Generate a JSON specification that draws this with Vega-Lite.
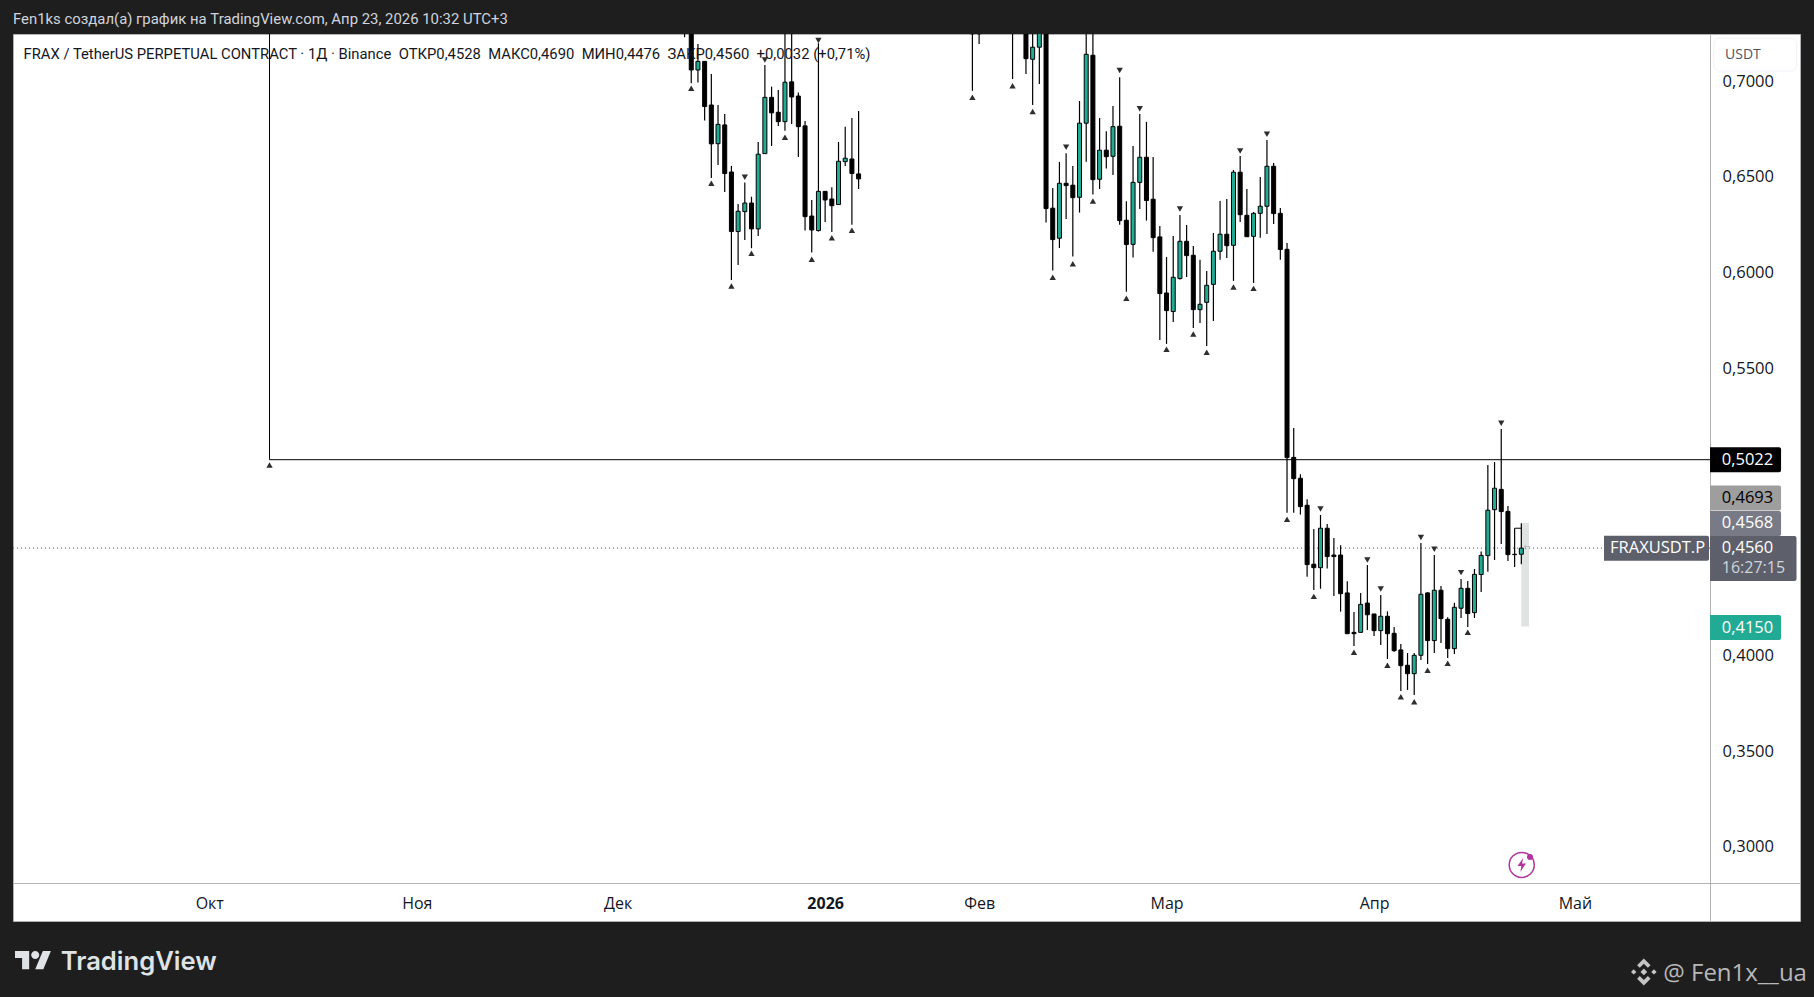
{
  "$schema": "https://vega.github.io/schema/vega-lite/v6.json",
  "description": "FRAXUSDT.P daily candles, TradingView snapshot",
  "width": 1787,
  "height": 887,
  "autosize": {"type": "none"},
  "padding": {"left": 13, "top": 34, "right": 14, "bottom": 76},
  "background": "#1e1e1e",
  "view": {"fill": "#ffffff", "stroke": "#b2b2b2"},
  "config": {"font": "Open Sans"},
  "datasets": {
    "candles": [
      {"bar":75,"open":0.78,"high":0.79,"low":0.7229,"close":0.73},
      {"bar":76,"open":0.75,"high":0.76,"low":0.6989,"close":0.7058},
      {"bar":77,"open":0.7058,"high":0.7194,"low":0.6992,"close":0.7103},
      {"bar":78,"open":0.7103,"high":0.7103,"low":0.6794,"close":0.6867},
      {"bar":79,"open":0.6875,"high":0.7037,"low":0.6494,"close":0.6672},
      {"bar":80,"open":0.6673,"high":0.6875,"low":0.6562,"close":0.6774},
      {"bar":81,"open":0.6771,"high":0.6828,"low":0.6421,"close":0.6517},
      {"bar":82,"open":0.6525,"high":0.6557,"low":0.5961,"close":0.6214},
      {"bar":83,"open":0.6214,"high":0.6358,"low":0.6039,"close":0.632},
      {"bar":84,"open":0.6318,"high":0.647,"low":0.617,"close":0.6363},
      {"bar":85,"open":0.6363,"high":0.6396,"low":0.6127,"close":0.6228},
      {"bar":86,"open":0.6228,"high":0.6682,"low":0.6191,"close":0.6618},
      {"bar":87,"open":0.6621,"high":0.7084,"low":0.6619,"close":0.6915},
      {"bar":88,"open":0.6915,"high":0.6971,"low":0.6661,"close":0.6834},
      {"bar":89,"open":0.6837,"high":0.6954,"low":0.6766,"close":0.6788},
      {"bar":90,"open":0.6788,"high":0.74,"low":0.674,"close":0.6994},
      {"bar":91,"open":0.6996,"high":0.74,"low":0.6776,"close":0.6917},
      {"bar":92,"open":0.6922,"high":0.694,"low":0.6604,"close":0.6762},
      {"bar":93,"open":0.6766,"high":0.6792,"low":0.6219,"close":0.6292},
      {"bar":94,"open":0.6295,"high":0.6379,"low":0.6104,"close":0.6222},
      {"bar":95,"open":0.6219,"high":0.7198,"low":0.6214,"close":0.6424},
      {"bar":96,"open":0.6424,"high":0.6424,"low":0.6264,"close":0.6379},
      {"bar":97,"open":0.6384,"high":0.6445,"low":0.6212,"close":0.6349},
      {"bar":98,"open":0.6355,"high":0.6682,"low":0.6355,"close":0.6581},
      {"bar":99,"open":0.6579,"high":0.6762,"low":0.6557,"close":0.6597},
      {"bar":100,"open":0.6593,"high":0.6807,"low":0.625,"close":0.6517},
      {"bar":101,"open":0.6515,"high":0.6844,"low":0.6436,"close":0.6489},
      {"bar":118,"open":0.75,"high":0.76,"low":0.6949,"close":0.7247},
      {"bar":119,"open":0.74,"high":0.75,"low":0.7194,"close":0.7247},
      {"bar":124,"open":0.75,"high":0.76,"low":0.7011,"close":0.73},
      {"bar":126,"open":0.74,"high":0.75,"low":0.7037,"close":0.7117},
      {"bar":127,"open":0.7114,"high":0.74,"low":0.6875,"close":0.7177},
      {"bar":128,"open":0.7177,"high":0.75,"low":0.6985,"close":0.735},
      {"bar":129,"open":0.735,"high":0.74,"low":0.6261,"close":0.6334},
      {"bar":130,"open":0.6336,"high":0.6442,"low":0.601,"close":0.6172},
      {"bar":131,"open":0.6179,"high":0.6578,"low":0.6128,"close":0.6466},
      {"bar":132,"open":0.6466,"high":0.6623,"low":0.628,"close":0.6454},
      {"bar":133,"open":0.6456,"high":0.6557,"low":0.6083,"close":0.6391},
      {"bar":134,"open":0.6393,"high":0.6896,"low":0.6313,"close":0.678},
      {"bar":135,"open":0.678,"high":0.74,"low":0.6578,"close":0.714},
      {"bar":136,"open":0.7135,"high":0.74,"low":0.6407,"close":0.6485},
      {"bar":137,"open":0.6487,"high":0.6807,"low":0.6436,"close":0.6639},
      {"bar":138,"open":0.6639,"high":0.6738,"low":0.6543,"close":0.6605},
      {"bar":139,"open":0.6607,"high":0.687,"low":0.651,"close":0.6762},
      {"bar":140,"open":0.6764,"high":0.702,"low":0.625,"close":0.6271},
      {"bar":141,"open":0.6273,"high":0.6372,"low":0.59,"close":0.6146},
      {"bar":142,"open":0.6147,"high":0.6661,"low":0.6078,"close":0.6471},
      {"bar":143,"open":0.6471,"high":0.6828,"low":0.6332,"close":0.6602},
      {"bar":144,"open":0.6602,"high":0.6787,"low":0.6271,"close":0.6376},
      {"bar":145,"open":0.6383,"high":0.6604,"low":0.6109,"close":0.6182},
      {"bar":146,"open":0.6186,"high":0.6243,"low":0.5648,"close":0.589},
      {"bar":147,"open":0.5893,"high":0.6081,"low":0.5627,"close":0.5801},
      {"bar":148,"open":0.5796,"high":0.6191,"low":0.5742,"close":0.5975},
      {"bar":149,"open":0.5968,"high":0.6301,"low":0.5964,"close":0.6163},
      {"bar":150,"open":0.6163,"high":0.6248,"low":0.5977,"close":0.6088},
      {"bar":151,"open":0.609,"high":0.6139,"low":0.571,"close":0.5806},
      {"bar":152,"open":0.5806,"high":0.6066,"low":0.5736,"close":0.5834},
      {"bar":153,"open":0.5844,"high":0.6008,"low":0.5616,"close":0.5933},
      {"bar":154,"open":0.5938,"high":0.6207,"low":0.5747,"close":0.6111},
      {"bar":155,"open":0.6111,"high":0.6374,"low":0.6066,"close":0.62},
      {"bar":156,"open":0.62,"high":0.6384,"low":0.6076,"close":0.614},
      {"bar":157,"open":0.6142,"high":0.6536,"low":0.5956,"close":0.6524},
      {"bar":158,"open":0.6524,"high":0.6609,"low":0.6264,"close":0.6302},
      {"bar":159,"open":0.6299,"high":0.6436,"low":0.6187,"close":0.6187},
      {"bar":160,"open":0.6189,"high":0.6316,"low":0.5945,"close":0.6309},
      {"bar":161,"open":0.6309,"high":0.6499,"low":0.6181,"close":0.6346},
      {"bar":162,"open":0.6346,"high":0.6692,"low":0.6201,"close":0.6555},
      {"bar":163,"open":0.6555,"high":0.6572,"low":0.6254,"close":0.6308},
      {"bar":164,"open":0.6309,"high":0.6337,"low":0.6066,"close":0.612},
      {"bar":165,"open":0.6121,"high":0.6154,"low":0.4745,"close":0.5033},
      {"bar":166,"open":0.5034,"high":0.5188,"low":0.4745,"close":0.4923},
      {"bar":167,"open":0.4925,"high":0.4946,"low":0.4735,"close":0.4777},
      {"bar":168,"open":0.4784,"high":0.4815,"low":0.4411,"close":0.4474},
      {"bar":169,"open":0.4476,"high":0.466,"low":0.4341,"close":0.4458},
      {"bar":170,"open":0.4458,"high":0.4733,"low":0.4348,"close":0.4664},
      {"bar":171,"open":0.4664,"high":0.4686,"low":0.4453,"close":0.4516},
      {"bar":172,"open":0.4524,"high":0.4613,"low":0.431,"close":0.4516},
      {"bar":173,"open":0.4524,"high":0.4575,"low":0.4228,"close":0.4322},
      {"bar":174,"open":0.4326,"high":0.4387,"low":0.4113,"close":0.4113},
      {"bar":175,"open":0.412,"high":0.4226,"low":0.4049,"close":0.4113},
      {"bar":176,"open":0.412,"high":0.4326,"low":0.412,"close":0.4266},
      {"bar":177,"open":0.4273,"high":0.4472,"low":0.4132,"close":0.4212},
      {"bar":178,"open":0.4216,"high":0.4216,"low":0.4101,"close":0.4129},
      {"bar":179,"open":0.4129,"high":0.4315,"low":0.4054,"close":0.4204},
      {"bar":180,"open":0.4204,"high":0.423,"low":0.3981,"close":0.4113},
      {"bar":181,"open":0.4115,"high":0.4148,"low":0.4019,"close":0.4024},
      {"bar":182,"open":0.4028,"high":0.4059,"low":0.3814,"close":0.3946},
      {"bar":183,"open":0.3948,"high":0.4012,"low":0.3819,"close":0.3904},
      {"bar":184,"open":0.3904,"high":0.4012,"low":0.3793,"close":0.4},
      {"bar":185,"open":0.4,"high":0.4587,"low":0.3976,"close":0.4319},
      {"bar":186,"open":0.4326,"high":0.4329,"low":0.3955,"close":0.4077},
      {"bar":187,"open":0.4077,"high":0.4524,"low":0.4012,"close":0.434},
      {"bar":188,"open":0.434,"high":0.4362,"low":0.4065,"close":0.4192},
      {"bar":189,"open":0.4188,"high":0.4199,"low":0.3986,"close":0.4035},
      {"bar":190,"open":0.4035,"high":0.4274,"low":0.4007,"close":0.4251},
      {"bar":191,"open":0.4246,"high":0.4399,"low":0.4195,"close":0.435},
      {"bar":192,"open":0.435,"high":0.4388,"low":0.4148,"close":0.4218},
      {"bar":193,"open":0.4223,"high":0.4451,"low":0.4195,"close":0.4423},
      {"bar":194,"open":0.4422,"high":0.4543,"low":0.4331,"close":0.4522},
      {"bar":195,"open":0.4521,"high":0.4994,"low":0.4436,"close":0.4758},
      {"bar":196,"open":0.4761,"high":0.501,"low":0.4498,"close":0.4873},
      {"bar":197,"open":0.4867,"high":0.5183,"low":0.4582,"close":0.4751},
      {"bar":198,"open":0.4752,"high":0.478,"low":0.4493,"close":0.4526},
      {"bar":199,"open":0.4528,"high":0.4664,"low":0.4462,"close":0.4526},
      {"bar":200,"open":0.4528,"high":0.469,"low":0.4476,"close":0.456}
    ],
    "pivots": [
      {"bar":13,"price":0.4994,"kind":"L"},
      {"bar":76,"price":0.6962,"kind":"L"},{"bar":79,"price":0.6466,"kind":"L"},{"bar":82,"price":0.593,"kind":"L"},
      {"bar":85,"price":0.61,"kind":"L"},{"bar":90,"price":0.6707,"kind":"L"},{"bar":94,"price":0.6069,"kind":"L"},
      {"bar":97,"price":0.6182,"kind":"L"},{"bar":100,"price":0.6221,"kind":"L"},
      {"bar":84,"price":0.6498,"kind":"H"},{"bar":87,"price":0.711,"kind":"H"},{"bar":95,"price":0.7212,"kind":"H"},
      {"bar":118,"price":0.6915,"kind":"L"},{"bar":124,"price":0.6976,"kind":"L"},{"bar":127,"price":0.6841,"kind":"L"},
      {"bar":130,"price":0.5975,"kind":"L"},{"bar":133,"price":0.6046,"kind":"L"},{"bar":136,"price":0.6374,"kind":"L"},
      {"bar":141,"price":0.5865,"kind":"L"},{"bar":147,"price":0.5599,"kind":"L"},{"bar":151,"price":0.5679,"kind":"L"},
      {"bar":153,"price":0.5583,"kind":"L"},{"bar":157,"price":0.5924,"kind":"L"},{"bar":160,"price":0.5917,"kind":"L"},
      {"bar":132,"price":0.6654,"kind":"H"},{"bar":140,"price":0.7055,"kind":"H"},{"bar":143,"price":0.6856,"kind":"H"},
      {"bar":149,"price":0.6332,"kind":"H"},{"bar":158,"price":0.6635,"kind":"H"},{"bar":162,"price":0.6722,"kind":"H"},
      {"bar":165,"price":0.4711,"kind":"L"},{"bar":169,"price":0.4308,"kind":"L"},{"bar":175,"price":0.4016,"kind":"L"},
      {"bar":180,"price":0.3948,"kind":"L"},{"bar":182,"price":0.3784,"kind":"L"},{"bar":184,"price":0.3758,"kind":"L"},
      {"bar":186,"price":0.3922,"kind":"L"},{"bar":189,"price":0.3958,"kind":"L"},{"bar":192,"price":0.412,"kind":"L"},
      {"bar":170,"price":0.4765,"kind":"H"},{"bar":177,"price":0.4498,"kind":"H"},{"bar":179,"price":0.4347,"kind":"H"},
      {"bar":185,"price":0.4615,"kind":"H"},{"bar":187,"price":0.4554,"kind":"H"},{"bar":191,"price":0.4432,"kind":"H"},
      {"bar":197,"price":0.5212,"kind":"H"}
    ],
    "tags": [
      {"label":"0,5022","name":"level","bar":228.19,"bar2":238.8,"price":0.5022},
      {"label":"0,4693","name":"high","bar":228.19,"bar2":238.8,"price":0.4822},
      {"label":"0,4568","name":"mid","bar":228.19,"bar2":238.8,"price":0.4689},
      {"label":"0,4150","name":"low","bar":228.19,"bar2":238.8,"price":0.4145},
      {"label":"FRAXUSDT.P","name":"last","bar":212.35,"bar2":228.04,"price":0.456}
    ]
  },
  "encoding": {
    "x": {
      "field": "bar",
      "type": "quantitative",
      "title": null,
      "scale": {"domain": [-25.32, 241.63], "nice": false, "zero": false, "padding": 0},
      "axis": {
        "orient": "bottom",
        "offset": -38,
        "values": [4, 35, 65, 96, 119, 147, 178, 208],
        "labelExpr": "{'4':'Окт','35':'Ноя','65':'Дек','96':'2026','119':'Фев','147':'Мар','178':'Апр','208':'Май'}[datum.value]",
        "grid": false,
        "ticks": false,
        "domainColor": "#b2b2b2",
        "labelColor": "#131722",
        "labelFontSize": 16,
        "labelFont": "Open Sans",
        "labelPadding": 12,
        "labelFontWeight": {"condition": {"test": "datum.value === 96", "value": "bold"}, "value": "normal"}
      }
    },
    "y": {
      "field": "price",
      "type": "quantitative",
      "title": null,
      "scale": {"domain": [0.2612, 0.7246], "nice": false, "zero": false, "padding": 0},
      "axis": {
        "orient": "right",
        "offset": -90,
        "values": [0.3, 0.35, 0.4, 0.55, 0.6, 0.65, 0.7],
        "labelExpr": "replace(format(datum.value, '.4f'), '.', ',')",
        "grid": false,
        "ticks": false,
        "domainColor": "#b2b2b2",
        "labelColor": "#131722",
        "labelFontSize": 16.5,
        "labelFont": "Open Sans",
        "labelPadding": 12,
        "encoding": {"labels": {"update": {"dy": {"signal": "(datum.value - 0.45) * -12"}}}}
      }
    }
  },
  "layer": [
    {
      "data": {"values": [{"bar": 200, "bar2": 201.15, "price": 0.4693, "price2": 0.415}]},
      "mark": {"type": "bar", "color": "#dfe4e3"},
      "encoding": {"x2": {"field": "bar2"}, "y2": {"field": "price2"}}
    },
    {
      "data": {"values": [{"bar": -25.32, "bar2": 228.19, "price": 0.456}]},
      "mark": {"type": "rule", "color": "#50535e", "strokeDash": [1, 3], "strokeWidth": 1},
      "encoding": {"x2": {"field": "bar2"}}
    },
    {
      "data": {"values": [{"bar": 13, "bar2": 228.19, "price": 0.5022}]},
      "mark": {"type": "rule", "color": "#000000", "strokeWidth": 1},
      "encoding": {"x2": {"field": "bar2"}}
    },
    {
      "data": {"values": [{"bar": 13, "price": 0.5022, "top": 0.7246}]},
      "mark": {"type": "rule", "color": "#000000", "strokeWidth": 1},
      "encoding": {"y2": {"field": "top"}}
    },
    {
      "data": {"name": "candles"},
      "mark": {"type": "rule", "color": "#000000", "strokeWidth": 1.2, "clip": true},
      "encoding": {
        "y": {"field": "low", "type": "quantitative", "title": null, "scale": {"domain": [0.2612, 0.7246], "nice": false, "zero": false, "padding": 0}},
        "y2": {"field": "high"}
      }
    },
    {
      "data": {"name": "candles"},
      "mark": {"type": "bar", "width": 4, "stroke": "#000000", "strokeWidth": 1, "clip": true},
      "encoding": {
        "y": {"field": "open", "type": "quantitative", "title": null, "scale": {"domain": [0.2612, 0.7246], "nice": false, "zero": false, "padding": 0}},
        "y2": {"field": "close"},
        "fill": {"condition": {"test": "datum.close > datum.open", "value": "#22ab94"}, "value": "#000000"}
      }
    },
    {
      "data": {"values": [{"bar": 199, "bar2": 200, "price": 0.4664}]},
      "mark": {"type": "rule", "color": "#000000", "strokeWidth": 1},
      "encoding": {"x2": {"field": "bar2"}}
    },
    {
      "data": {"name": "pivots"},
      "mark": {"type": "point", "filled": true, "size": 40, "color": "#2e2e2e", "opacity": 1, "clip": true},
      "encoding": {
        "shape": {"field": "kind", "type": "nominal", "scale": {"domain": ["H", "L"], "range": ["triangle-down", "triangle-up"]}, "legend": null}
      }
    },
    {
      "data": {"values": [{"label": "←", "bar": 200.9, "price": 0.4577}]},
      "mark": {"type": "text", "color": "#a3a6af", "fontSize": 11, "align": "center", "baseline": "middle"},
      "encoding": {"text": {"field": "label"}}
    },
    {
      "data": {"name": "tags"},
      "mark": {"type": "bar", "height": 25, "cornerRadiusTopRight": 2, "cornerRadiusBottomRight": 2},
      "encoding": {
        "x2": {"field": "bar2"},
        "color": {"field": "name", "type": "nominal", "scale": {"domain": ["level", "high", "mid", "low", "last"], "range": ["#000000", "#9e9e9e", "#787b86", "#22ab94", "#5d606b"]}, "legend": null}
      }
    },
    {
      "data": {"values": [{"bar": 228.19, "bar2": 241.11, "price": 0.4506}]},
      "mark": {"type": "bar", "height": 45, "color": "#5d606b", "cornerRadiusTopRight": 2, "cornerRadiusBottomRight": 2},
      "encoding": {"x2": {"field": "bar2"}}
    },
    {
      "data": {"values": [{"bar": 228.76, "bar2": 241.14, "price": 0.7139}]},
      "mark": {"type": "bar", "height": 33, "color": "#ffffff", "stroke": "#f0f3fa", "strokeWidth": 1, "cornerRadius": 6},
      "encoding": {"x2": {"field": "bar2"}}
    },
    {
      "data": {"values": [
        {"label": "0,5022", "bar": 229.94, "price": 0.5022},
        {"label": "0,4568", "bar": 229.94, "price": 0.4689},
        {"label": "0,4560", "bar": 229.94, "price": 0.4562},
        {"label": "0,4150", "bar": 229.94, "price": 0.4145},
        {"label": "FRAXUSDT.P", "bar": 213.25, "price": 0.456}
      ]},
      "mark": {"type": "text", "color": "#ffffff", "fontSize": 16.5, "fontWeight": 500, "align": "left", "baseline": "middle", "font": "Open Sans"},
      "encoding": {"text": {"field": "label"}}
    },
    {
      "data": {"values": [{"label": "0,4693", "bar": 229.94, "price": 0.4822}]},
      "mark": {"type": "text", "color": "#000000", "fontSize": 16.5, "align": "left", "baseline": "middle", "font": "Open Sans"},
      "encoding": {"text": {"field": "label"}}
    },
    {
      "data": {"values": [{"label": "16:27:15", "bar": 229.94, "price": 0.4455}]},
      "mark": {"type": "text", "color": "#d1d4dc", "fontSize": 16, "align": "left", "baseline": "middle", "font": "Open Sans"},
      "encoding": {"text": {"field": "label"}}
    },
    {
      "data": {"values": [{"label": "USDT", "bar": 230.43, "price": 0.7137}]},
      "mark": {"type": "text", "color": "#50535e", "fontSize": 14, "align": "left", "baseline": "middle", "font": "Open Sans"},
      "encoding": {"text": {"field": "label"}}
    },
    {
      "data": {"values": [{"label": "Fen1ks создал(а) график на TradingView.com, Апр 23, 2026 10:32 UTC+3", "bar": -25.32, "price": 0.732}]},
      "mark": {"type": "text", "color": "#d1d4dc", "fontSize": 14.9, "align": "left", "baseline": "middle", "font": "Roboto"},
      "encoding": {"text": {"field": "label"}}
    },
    {
      "data": {"values": [{"label": "FRAX / TetherUS PERPETUAL CONTRACT · 1Д · Binance\u00a0\u00a0ОТКР0,4528\u00a0\u00a0МАКС0,4690\u00a0\u00a0МИН0,4476\u00a0\u00a0ЗАКР0,4560\u00a0\u00a0+0,0032 (+0,71%)", "bar": -23.75, "price": 0.7137}]},
      "mark": {"type": "text", "color": "#131722", "fontSize": 14.8, "align": "left", "baseline": "middle", "font": "Roboto"},
      "encoding": {"text": {"field": "label"}}
    },
    {
      "data": {"values": [{"label": "TradingView", "bar": -18.18, "price": 0.2398}]},
      "mark": {"type": "text", "color": "#dfe3e6", "fontSize": 25.6, "fontWeight": 600, "align": "left", "baseline": "middle", "font": "Inter"},
      "encoding": {"text": {"field": "label"}}
    },
    {
      "data": {"values": [{"bar": -22.3, "price": 0.2408}]},
      "mark": {
        "type": "point",
        "filled": true,
        "opacity": 1,
        "size": 1325,
        "color": "#dfe3e6",
        "shape": "M-0.222,0.5L-0.611,0.5L-0.611,-0.111L-1,-0.111L-1,-0.5L-0.222,-0.5ZM0.556,0.5L0.111,0.5L0.528,-0.5L0.972,-0.5ZM-0.111,-0.278a0.222,0.222 0 1,0 0.444,0a0.222,0.222 0 1,0 -0.444,0Z"
      }
    },
    {
      "data": {"values": [{"label": "@ Fen1x__ua", "bar": 221.2, "price": 0.2333}]},
      "mark": {"type": "text", "color": "#b8b8b8", "fontSize": 24, "align": "left", "baseline": "middle", "font": "Open Sans"},
      "encoding": {"text": {"field": "label"}}
    },
    {
      "data": {"values": [{"bar": 218.3, "price": 0.2346}]},
      "mark": {
        "type": "point",
        "filled": true,
        "opacity": 1,
        "size": 729,
        "color": "#c4c4c4",
        "shape": "M0,-0.25L0.25,0L0,0.25L-0.25,0ZM-0.75,-0.2L-0.55,0L-0.75,0.2L-0.95,0ZM0.75,-0.2L0.95,0L0.75,0.2L0.55,0ZM0,-1L0.5,-0.5L0.3,-0.3L0,-0.6L-0.3,-0.3L-0.5,-0.5ZM0,1L0.5,0.5L0.3,0.3L0,0.6L-0.3,0.3L-0.5,0.5Z"
      }
    },
    {
      "data": {"values": [{"bar": 200.06, "price": 0.2905}]},
      "mark": {"type": "point", "filled": false, "opacity": 1, "shape": "circle", "size": 625, "color": "#b0359e", "strokeWidth": 1.5}
    },
    {
      "data": {"values": [{"bar": 200.06, "price": 0.2905}]},
      "mark": {
        "type": "point",
        "filled": true,
        "opacity": 1,
        "size": 196,
        "color": "#b0359e",
        "shape": "M0.2,-1L-0.6,0.15L-0.05,0.15L-0.2,1L0.6,-0.2L0.05,-0.2Z"
      }
    },
    {
      "data": {"values": [{"bar": 201.3, "price": 0.2946}]},
      "mark": {"type": "point", "filled": true, "opacity": 1, "shape": "circle", "size": 36, "color": "#b0359e"}
    }
  ]
}
